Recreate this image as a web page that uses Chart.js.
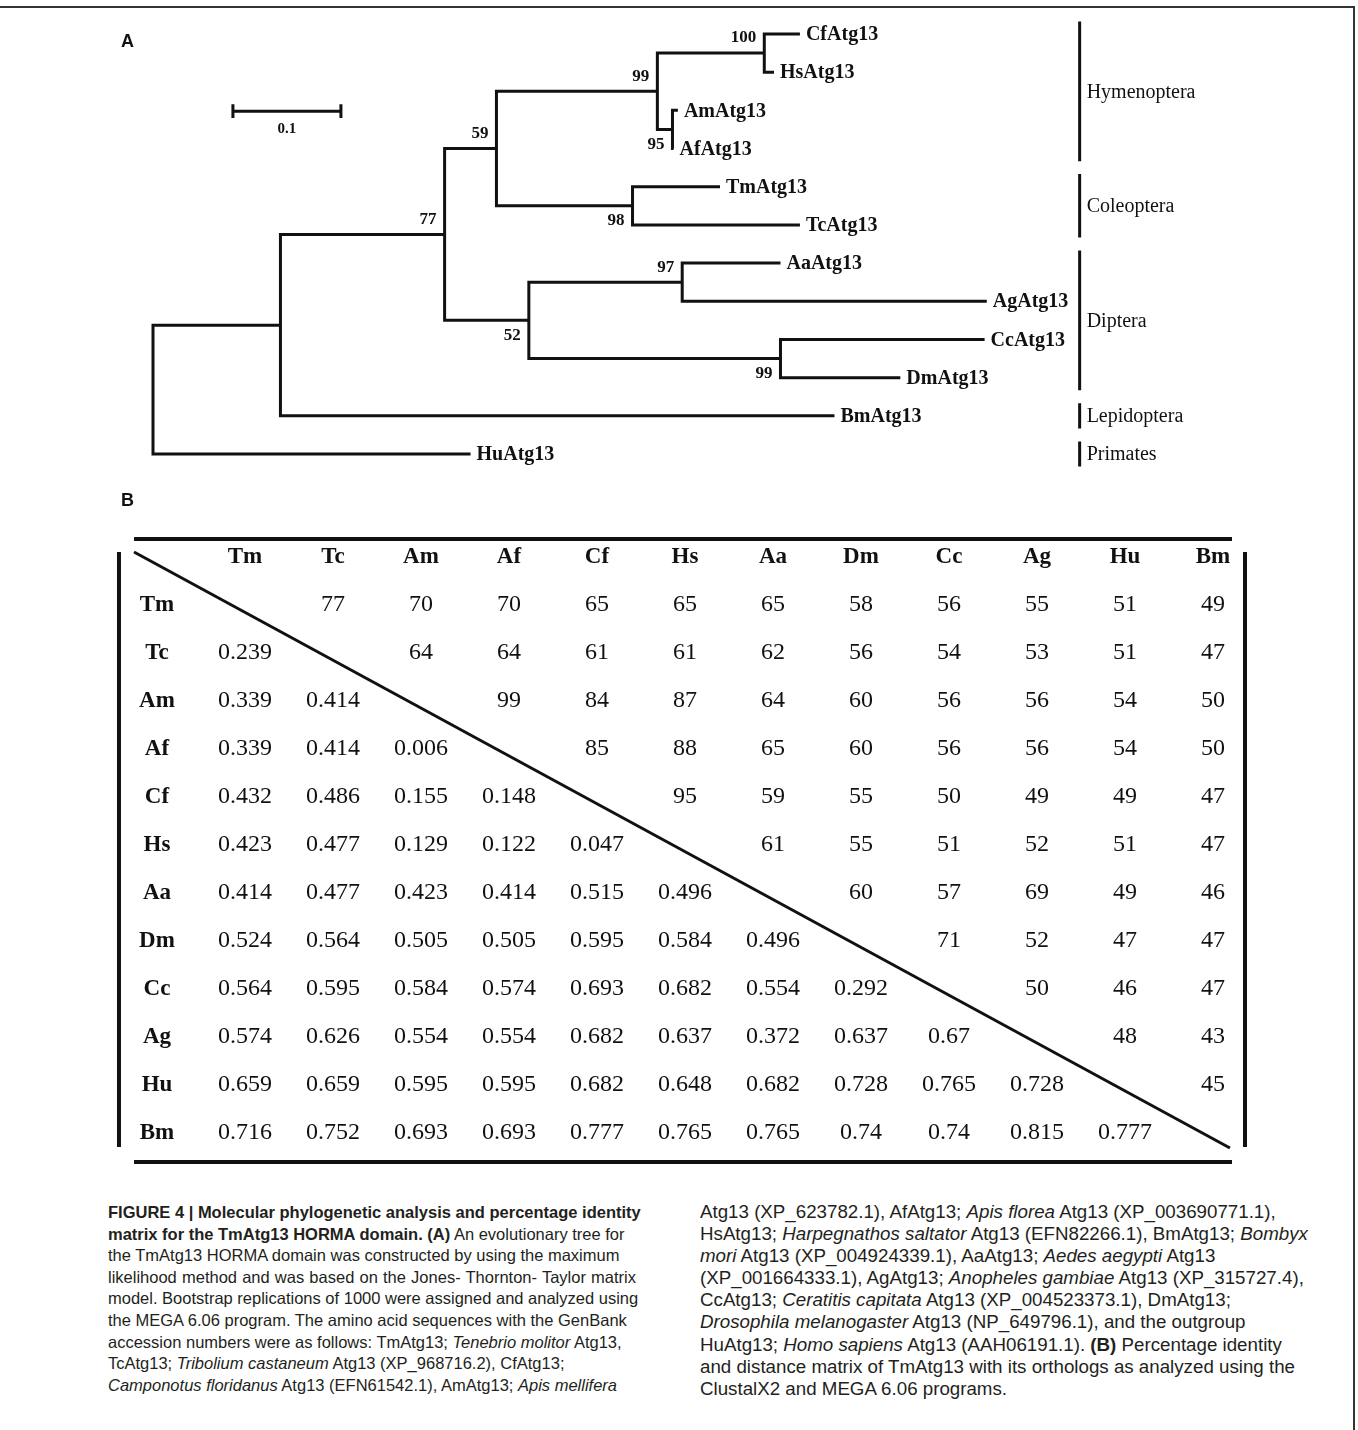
<!DOCTYPE html>
<html lang="en">
<head>
<meta charset="UTF-8">
<title>Figure 4 - TmAtg13 HORMA domain</title>
<script src="https://cdn.jsdelivr.net/npm/chart.js"></script>
<style>
    body {
        margin: 0;
        background: #fff;
        width: 1358px;
        height: 1430px;
        position: relative;
        overflow: hidden;
    }
    .frame {
        position: absolute;
        left: 0;
        top: 6px;
        width: 1353px;
        height: 1440px;
        border-top: 2px solid #333;
        border-right: 2px solid #333;
    }
    canvas {
        position: absolute;
        left: 0;
    }
    #treeChart { top: 0; }
    #matrixChart { top: 480px; }
    .panel {
        position: absolute;
        font: bold 18px "Liberation Sans", Arial, sans-serif;
        color: #111;
    }
    .caption {
        position: absolute;
        top: 1202px;
        font-family: "Liberation Sans", Arial, sans-serif;
        font-size: 16.5px;
        line-height: 21.6px;
        color: #231f20;
    }
    .caption div { white-space: nowrap; }
    .caption .just { text-align: justify; text-align-last: justify; }
    .caption.right {
        font-size: 17.5px;
        line-height: 22.1px;
        transform-origin: 0 0;
        transform: scaleX(1.07);
    }
</style>
</head>
<body>

<div class="frame"></div>
<canvas id="treeChart" width="1358" height="480"></canvas>
<canvas id="matrixChart" width="1358" height="700"></canvas>
<div class="panel" style="left:121px; top:31px;">A</div>
<div class="panel" style="left:121px; top:490px;">B</div>

<div class="caption" style="left:108px; width:528px;">
    <div class="just"><b>FIGURE 4 | Molecular phylogenetic analysis and percentage identity</b></div>
    <div><b>matrix for the TmAtg13 HORMA domain. (A)</b> An evolutionary tree for</div>
    <div>the TmAtg13 HORMA domain was constructed by using the maximum</div>
    <div class="just">likelihood method and was based on the Jones- Thornton- Taylor matrix</div>
    <div class="just">model. Bootstrap replications of 1000 were assigned and analyzed using</div>
    <div>the MEGA 6.06 program. The amino acid sequences with the GenBank</div>
    <div>accession numbers were as follows: TmAtg13; <i>Tenebrio molitor</i> Atg13,</div>
    <div>TcAtg13; <i>Tribolium castaneum</i> Atg13 (XP_968716.2), CfAtg13;</div>
    <div><i>Camponotus floridanus</i> Atg13 (EFN61542.1), AmAtg13; <i>Apis mellifera</i></div>
</div>
<div class="caption right" style="left:700px; top:1201px;">
    <div>Atg13 (XP_623782.1), AfAtg13; <i>Apis florea</i> Atg13 (XP_003690771.1),</div>
    <div>HsAtg13; <i>Harpegnathos saltator</i> Atg13 (EFN82266.1), BmAtg13; <i>Bombyx</i></div>
    <div><i>mori</i> Atg13 (XP_004924339.1), AaAtg13; <i>Aedes aegypti</i> Atg13</div>
    <div>(XP_001664333.1), AgAtg13; <i>Anopheles gambiae</i> Atg13 (XP_315727.4),</div>
    <div>CcAtg13; <i>Ceratitis capitata</i> Atg13 (XP_004523373.1), DmAtg13;</div>
    <div><i>Drosophila melanogaster</i> Atg13 (NP_649796.1), and the outgroup</div>
    <div>HuAtg13; <i>Homo sapiens</i> Atg13 (AAH06191.1). <b>(B)</b> Percentage identity</div>
    <div>and distance matrix of TmAtg13 with its orthologs as analyzed using the</div>
    <div>ClustalX2 and MEGA 6.06 programs.</div>
</div>

<script>
    // ---- panel A: maximum likelihood tree ----
    const leaves = ['CfAtg13', 'HsAtg13', 'AmAtg13', 'AfAtg13', 'TmAtg13', 'TcAtg13',
                    'AaAtg13', 'AgAtg13', 'CcAtg13', 'DmAtg13', 'BmAtg13', 'HuAtg13'];
    // distance from the root (substitutions per site)
    const leafDepth = [0.599, 0.575, 0.486, 0.482, 0.525, 0.599,
                       0.581, 0.772, 0.770, 0.692, 0.631, 0.294];
    // internal nodes, children listed before parents
    const nodeIds = ['n100', 'n95', 'n99a', 'n98', 'n59', 'n97', 'n99b', 'n52', 'n77', 'nIn', 'root'];
    const nodeDepth = [0.566, 0.481, 0.467, 0.444, 0.318, 0.490, 0.581, 0.348, 0.270, 0.118, 0];
    const nodeChildren = [
        ['CfAtg13', 'HsAtg13'], ['AmAtg13', 'AfAtg13'], ['n100', 'n95'], ['TmAtg13', 'TcAtg13'],
        ['n99a', 'n98'], ['AaAtg13', 'AgAtg13'], ['CcAtg13', 'DmAtg13'], ['n97', 'n99b'],
        ['n59', 'n52'], ['n77', 'BmAtg13'], ['nIn', 'HuAtg13']
    ];
    const bootstrap = [100, 95, 99, 98, 59, 97, 99, 52, 77, null, null];

    const groups = ['Hymenoptera', 'Coleoptera', 'Diptera', 'Lepidoptera', 'Primates'];
    const groupFirst = [0, 4, 6, 10, 11];
    const groupLast = [3, 5, 9, 10, 11];
    const scaleBar = 0.1;

    // ---- panel B: identity (upper) / distance (lower) matrix ----
    const taxa = ['Tm', 'Tc', 'Am', 'Af', 'Cf', 'Hs', 'Aa', 'Dm', 'Cc', 'Ag', 'Hu', 'Bm'];
    const identity = [
        [77, 70, 70, 65, 65, 65, 58, 56, 55, 51, 49],
        [64, 64, 61, 61, 62, 56, 54, 53, 51, 47],
        [99, 84, 87, 64, 60, 56, 56, 54, 50],
        [85, 88, 65, 60, 56, 56, 54, 50],
        [95, 59, 55, 50, 49, 49, 47],
        [61, 55, 51, 52, 51, 47],
        [60, 57, 69, 49, 46],
        [71, 52, 47, 47],
        [50, 46, 47],
        [48, 43],
        [45],
        []
    ];
    const distance = [
        [],
        ['0.239'],
        ['0.339', '0.414'],
        ['0.339', '0.414', '0.006'],
        ['0.432', '0.486', '0.155', '0.148'],
        ['0.423', '0.477', '0.129', '0.122', '0.047'],
        ['0.414', '0.477', '0.423', '0.414', '0.515', '0.496'],
        ['0.524', '0.564', '0.505', '0.505', '0.595', '0.584', '0.496'],
        ['0.564', '0.595', '0.584', '0.574', '0.693', '0.682', '0.554', '0.292'],
        ['0.574', '0.626', '0.554', '0.554', '0.682', '0.637', '0.372', '0.637', '0.67'],
        ['0.659', '0.659', '0.595', '0.595', '0.682', '0.648', '0.682', '0.728', '0.765', '0.728'],
        ['0.716', '0.752', '0.693', '0.693', '0.777', '0.765', '0.765', '0.74', '0.74', '0.815', '0.777']
    ];

    const INK = '#111';
    const SERIF = '"Liberation Serif", "Times New Roman", serif';

    function lineSet(points, width) {
        return {
            data: points,
            showLine: true,
            borderColor: INK,
            borderWidth: width,
            pointRadius: 0,
            fill: false,
            tension: 0,
            borderJoinStyle: 'miter',
            borderCapStyle: 'butt',
            clip: false
        };
    }

    // node positions: x = depth, y = leaf slot
    const pos = {};
    leaves.forEach((name, i) => { pos[name] = { x: leafDepth[i], y: i }; });
    nodeIds.forEach((id, k) => {
        const [a, b] = nodeChildren[k];
        pos[id] = { x: nodeDepth[k], y: (pos[a].y + pos[b].y) / 2 };
    });
    // which side of its parent each node sits on (for bootstrap label)
    const upper = {};
    nodeChildren.forEach(([a, b]) => { upper[a] = true; upper[b] = false; });

    const treeSets = nodeIds.map((id, k) => {
        const [a, b] = nodeChildren[k];
        const d = nodeDepth[k];
        return lineSet([
            { x: pos[a].x, y: pos[a].y }, { x: d, y: pos[a].y },
            { x: d, y: pos[b].y }, { x: pos[b].x, y: pos[b].y }
        ], 3);
    });

    // scale bar
    const sbX = 0.074, sbY = 2.02, sbTick = 0.18;
    treeSets.push(lineSet([
        { x: sbX, y: sbY - sbTick }, { x: sbX, y: sbY + sbTick }, { x: sbX, y: sbY },
        { x: sbX + scaleBar, y: sbY }, { x: sbX + scaleBar, y: sbY - sbTick },
        { x: sbX + scaleBar, y: sbY + sbTick }
    ], 3));

    // group bars
    const groupX = 0.858, groupPad = 0.33;
    groups.forEach((g, i) => {
        treeSets.push(lineSet([
            { x: groupX, y: groupFirst[i] - groupPad },
            { x: groupX, y: groupLast[i] + groupPad }
        ], 3));
    });

    const treeText = {
        id: 'treeText',
        afterDatasetsDraw(chart) {
            const { ctx, scales: { x, y } } = chart;
            ctx.save();
            ctx.fillStyle = INK;
            ctx.textBaseline = 'middle';

            ctx.font = 'bold 20px ' + SERIF;
            ctx.textAlign = 'left';
            leaves.forEach((name, i) => {
                ctx.fillText(name, x.getPixelForValue(leafDepth[i]) + 6, y.getPixelForValue(i) + 1);
            });

            ctx.font = 'bold 17px ' + SERIF;
            ctx.textAlign = 'right';
            nodeIds.forEach((id, k) => {
                if (bootstrap[k] === null) return;
                const py = y.getPixelForValue(pos[id].y) + (upper[id] ? -15 : 15);
                ctx.fillText(String(bootstrap[k]), x.getPixelForValue(nodeDepth[k]) - 8, py);
            });

            ctx.font = 'bold 15px ' + SERIF;
            ctx.textAlign = 'center';
            ctx.fillText(String(scaleBar), x.getPixelForValue(sbX + scaleBar / 2), y.getPixelForValue(sbY) + 18);

            ctx.font = '20px ' + SERIF;
            ctx.textAlign = 'left';
            groups.forEach((g, i) => {
                const py = y.getPixelForValue((groupFirst[i] + groupLast[i]) / 2);
                ctx.fillText(g, x.getPixelForValue(groupX) + 7, py + 1);
            });
            ctx.restore();
        }
    };

    new Chart(document.getElementById('treeChart'), {
        type: 'scatter',
        data: { datasets: treeSets },
        options: {
            responsive: false,
            animation: false,
            events: [],
            layout: { padding: 0 },
            plugins: { legend: { display: false }, tooltip: { enabled: false } },
            scales: {
                x: { type: 'linear', display: false, min: -0.14167, max: 1.11574 },
                y: { type: 'linear', display: false, reverse: true, min: -0.8905, max: 11.6812 }
            }
        },
        plugins: [treeText]
    });

    // ---- matrix chart ----
    const n = taxa.length;
    const ruleL = -1.261, ruleR = 11.216;
    const matrixSets = [
        lineSet([{ x: ruleL, y: -1.333 }, { x: ruleR, y: -1.333 }], 4),
        lineSet([{ x: ruleL, y: 11.646 }, { x: ruleR, y: 11.646 }], 4),
        lineSet([{ x: -1.432, y: -1.0625 }, { x: -1.432, y: 11.333 }], 4),
        lineSet([{ x: 11.364, y: -1.0625 }, { x: 11.364, y: 11.333 }], 4),
        lineSet([{ x: ruleL, y: -1.0625 }, { x: 11.193, y: 11.354 }], 3)
    ];

    const matrixText = {
        id: 'matrixText',
        afterDatasetsDraw(chart) {
            const { ctx, scales: { x, y } } = chart;
            ctx.save();
            ctx.fillStyle = INK;
            ctx.textBaseline = 'middle';
            ctx.textAlign = 'center';

            ctx.font = 'bold 23px ' + SERIF;
            taxa.forEach((t, i) => {
                ctx.fillText(t, x.getPixelForValue(i), y.getPixelForValue(-1) + 2);
                ctx.fillText(t, x.getPixelForValue(-1), y.getPixelForValue(i) + 2);
            });

            ctx.font = '24px ' + SERIF;
            for (let i = 0; i < n; i++) {
                identity[i].forEach((v, k) => {
                    ctx.fillText(String(v), x.getPixelForValue(i + 1 + k), y.getPixelForValue(i) + 2);
                });
                distance[i].forEach((v, j) => {
                    ctx.fillText(v, x.getPixelForValue(j), y.getPixelForValue(i) + 2);
                });
            }
            ctx.restore();
        }
    };

    new Chart(document.getElementById('matrixChart'), {
        type: 'scatter',
        data: { datasets: matrixSets },
        options: {
            responsive: false,
            animation: false,
            events: [],
            layout: { padding: 0 },
            plugins: { legend: { display: false }, tooltip: { enabled: false } },
            scales: {
                x: { type: 'linear', display: false, min: -2.784, max: 12.648 },
                y: { type: 'linear', display: false, reverse: true, min: -2.5625, max: 12.021 }
            }
        },
        plugins: [matrixText]
    });
</script>

</body>
</html>
